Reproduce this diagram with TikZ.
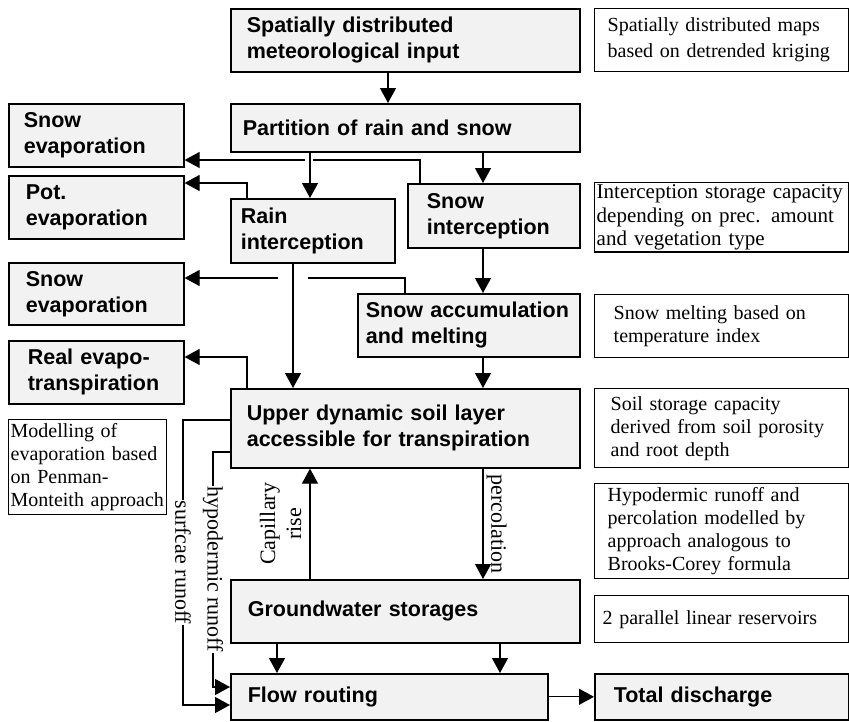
\documentclass[tikz,border=0pt]{standalone}
\usepackage{fontspec}
\setmainfont{Liberation Serif}
\setsansfont{Liberation Sans}
\usepackage{tikz}
\usetikzlibrary{arrows.meta}
\usetikzlibrary{positioning}
\tikzset{
    procnode/.style = {draw=black, line width=1.6pt, fill=black!5, align=left, anchor=north west, inner ysep=2pt, font=\sffamily\bfseries\fontsize{21.5}{26}\selectfont},
    notenode/.style = {draw=black, line width=1.4pt, fill=white, align=left, anchor=north west, inner ysep=2pt, font=\rmfamily\fontsize{20}{23}\selectfont},
    lbl/.style = {font=\rmfamily\fontsize{22}{26}\selectfont, inner sep=1pt},
}

\begin{document}
\begin{tikzpicture}[
	x=1pt,
	y=-1pt
]
\tikzset{
    edgen/.style = {-, line width=1.2pt},
    edgea/.style = {line width=1.2pt, -{Triangle[width=16pt,length=15pt]}}
}
\useasboundingbox (0,0) rectangle (849,721);
\node[procnode, text width=317pt, inner xsep=16pt, minimum height=63pt] at (230,8) (meteo) {Spatially distributed\\meteorological input};
\node[notenode, text width=228pt, inner xsep=13pt, minimum height=63pt, font=\rmfamily\fontsize{20}{26}\selectfont] at (594,8) (n1) {Spatially distributed maps\\based on detrended kriging};
\node[procnode, text width=325pt, inner xsep=12pt, minimum height=48pt] at (230,103) (part) {Partition of rain and snow};
\node[procnode, text width=145pt, inner xsep=15pt, minimum height=63pt] at (8,103) (sevapa) {Snow\\evaporation};
\node[procnode, text width=141pt, inner xsep=17pt, minimum height=63pt] at (8,175) (potevap) {Pot.\\evaporation};
\node[procnode, text width=144pt, inner xsep=10pt, minimum height=64pt] at (230,198) (rain) {Rain\\interception};
\node[procnode, text width=134pt, inner xsep=19pt, minimum height=64pt] at (407,183) (snowint) {Snow\\interception};
\node[notenode, text width=250pt, inner xsep=2pt, minimum height=65pt, font=\rmfamily\fontsize{21}{23.5}\selectfont] at (594,182) (n2) {Interception storage capacity\\depending on prec. amount\\and vegetation type};
\node[procnode, text width=141pt, inner xsep=17pt, minimum height=62pt] at (8,262) (sevapb) {Snow\\evaporation};
\node[procnode, text width=206pt, inner xsep=8pt, minimum height=63pt] at (357,293) (snowacc) {Snow accumulation\\and melting};
\node[notenode, text width=216pt, inner xsep=19pt, minimum height=63pt] at (594,294) (n3) {Snow melting based on\\temperature index};
\node[procnode, text width=137pt, inner xsep=19pt, minimum height=63pt] at (8,340) (realevap) {Real evapo-\\transpiration};
\node[procnode, text width=317pt, inner xsep=16pt, minimum height=79pt] at (230,388) (upper) {Upper dynamic soil layer\\accessible for transpiration};
\node[notenode, text width=222pt, inner xsep=16pt, minimum height=79pt] at (594,388) (n4) {Soil storage capacity\\derived from soil porosity\\and root depth};
\node[notenode, text width=154pt, inner xsep=2pt, minimum height=95pt] at (8,419) (n5) {Modelling of\\evaporation based\\on Penman-\\Monteith approach};
\node[notenode, text width=228pt, inner xsep=13pt, minimum height=95pt] at (594,483) (n6) {Hypodermic runoff and\\percolation modelled by\\approach analogous to\\Brooks-Corey formula};
\node[procnode, text width=315pt, inner xsep=17pt, minimum height=63pt] at (230,579) (ground) {Groundwater storages};
\node[notenode, text width=238pt, inner xsep=8pt, minimum height=47pt] at (594,595) (n7) {2 parallel linear reservoirs};
\node[procnode, text width=283pt, inner xsep=17pt, minimum height=46pt] at (230,673) (route) {Flow routing};
\node[procnode, text width=216pt, inner xsep=19pt, minimum height=46pt] at (594,673) (total) {Total discharge};
%
\coordinate (ga) at (305,160);
\coordinate (gb) at (313,160);
\coordinate (gc) at (278,278);
\coordinate (gd) at (308,278);
%
\draw[edgea] (meteo.south -| 388,0) -- (part.north -| 388,0);
\draw[edgea] (part.south -| 310,0) -- (rain.north -| 310,0);
\draw[edgea] (part.south -| 483,0) -- (snowint.north -| 483,0);
\draw[edgen] (snowint.north -| 420,0) |- (gb);
\draw[edgea] (ga) -- (sevapa.east |- ga);
\draw[edgea] (rain.north -| 247,0) |- (potevap.east |- 0,183);
%
\draw[edgea] (rain.south -| 293,0) -- (upper.north -| 293,0);
\draw[edgea] (snowint.south -| 483,0) -- (snowacc.north -| 483,0);
\draw[edgen] (snowacc.north -| 405,0) |- (gd);
\draw[edgea] (gc) -- (sevapb.east |- gc);
\draw[edgea] (snowacc.south -| 483,0) -- (upper.north -| 483,0);
\draw[edgea] (upper.north -| 247,0) |- (realevap.east |- 0,357);
%
\draw[edgea] (upper.west |- 0,420) -| node[pos=0.75, lbl, fill=white, rotate=-90] {surfcae runoff} (183,705) -- (route.west |- 0,705);
\draw[edgea] (upper.west |- 0,452) -| node[pos=0.75, lbl, fill=white, rotate=-90] {hypodermic runoff} (213,687) -- (route.west |- 0,687);
\draw[edgea] (upper.south -| 483,0) -- node[lbl, rotate=-90, anchor=south, inner sep=3pt] {percolation} (ground.north -| 483,0);
\draw[edgea] (ground.north -| 310,0) -- node[lbl, rotate=90, anchor=south, align=center, inner sep=8pt] {Capillary\\rise} (upper.south -| 310,0);
%
\draw[edgea] (ground.south -| 277,0) -- (route.north -| 277,0);
\draw[edgea] (ground.south -| 500,0) -- (route.north -| 500,0);
\draw[edgea] (route.east) -- (total.west);
\end{tikzpicture}
\end{document}
